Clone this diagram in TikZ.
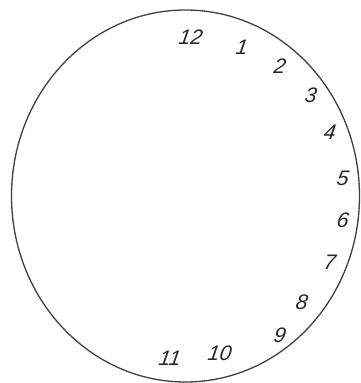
\documentclass[tikz,border=0pt]{standalone}
\usepackage{fontspec}
\setmainfont{Liberation Sans}
\begin{document}
\begin{tikzpicture}[x=1pt,y=1pt,
  num/.style={font=\fontsize{21}{24}\selectfont\itshape, text=black!85, inner sep=0pt, xslant=0.15},
  face/.style={draw=black!75, line width=1.3pt}]
\useasboundingbox (0,0) rectangle (361,383);
\draw[face] (185.5,187) ellipse [x radius=174, y radius=186];
\node[num] (n12) at (191,346) {12};
\node[num] (n1) at (242,336) {1};
\node[num] (n2) at (280,317) {2};
\node[num] (n3) at (311,288) {3};
\node[num] (n4) at (330,251) {4};
\node[num] (n5) at (343,205) {5};
\node[num] (n6) at (343,163) {6};
\node[num] (n7) at (330,121) {7};
\node[num] (n8) at (302,81) {8};
\node[num] (n9) at (280,48) {9};
\node[num] (n10) at (220,30) {10};
\node[num] (n11) at (170,25) {11};
\end{tikzpicture}
\end{document}
